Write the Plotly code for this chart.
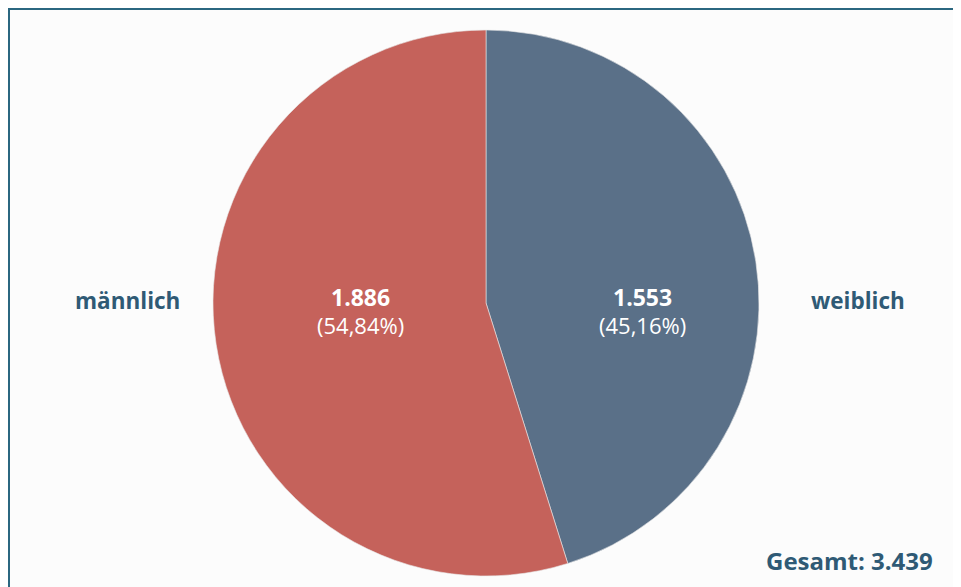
import plotly.graph_objects as go

categories = ["weiblich", "männlich"]
values = [1553, 1886]
value_labels = ["1.553", "1.886"]
pct_labels = ["(45,16%)", "(54,84%)"]
colors = ["#5a7088", "#c5625b"]
total_label = "Gesamt: 3.439"

OFF = 8  # page body margin
W, H = 961 - OFF, 587 - OFF
cx, cy, r = 486 - OFF, 303 - OFF, 273


def px(x):
    return (x - OFF) / W


def py(y):
    return (H - (y - OFF)) / H


fig = go.Figure()
fig.add_trace(go.Pie(
    labels=categories,
    values=values,
    sort=False,
    direction="clockwise",
    rotation=0,
    textinfo="none",
    hoverinfo="label+value+percent",
    marker=dict(colors=colors, line=dict(color="#e8e8e8", width=0.6)),
    showlegend=False,
    domain=dict(x=[(cx - r) / W, (cx + r) / W], y=[(H - cy - r) / H, (H - cy + r) / H]),
))

label_color = "#2f5a75"
font_family = "Open Sans, Noto Sans, sans-serif"

inner_x = [642, 360]
for i in range(len(categories)):
    fig.add_annotation(x=px(inner_x[i]), y=py(297), xref="paper", yref="paper",
                       text="<b>" + value_labels[i] + "</b>", showarrow=False,
                       font=dict(family=font_family, size=23, color="white"),
                       xanchor="center", yanchor="middle")
    fig.add_annotation(x=px(inner_x[i]), y=py(325), xref="paper", yref="paper",
                       text=pct_labels[i], showarrow=False,
                       font=dict(family=font_family, size=22, color="white"),
                       xanchor="center", yanchor="middle")

outer_x = [858, 128]
for i in range(len(categories)):
    fig.add_annotation(x=px(outer_x[i]), y=py(300), xref="paper", yref="paper",
                       text="<b>" + categories[i] + "</b>", showarrow=False,
                       font=dict(family=font_family, size=22.5, color=label_color),
                       xanchor="center", yanchor="middle")

fig.add_annotation(x=px(849), y=py(560), xref="paper", yref="paper",
                   text="<b>" + total_label + "</b>", showarrow=False,
                   font=dict(family=font_family, size=24, color=label_color),
                   xanchor="center", yanchor="middle")

fig.add_shape(type="rect", xref="paper", yref="paper",
              x0=1 / W, x1=px(959), y0=-0.05, y1=(H - 1) / H,
              line=dict(color="#2b6780", width=2), fillcolor="#fcfcfc", layer="below")

fig.update_layout(
    width=W, height=H,
    margin=dict(l=0, r=0, t=0, b=0),
    paper_bgcolor="white",
    plot_bgcolor="white",
)

fig.write_html("out.html")
